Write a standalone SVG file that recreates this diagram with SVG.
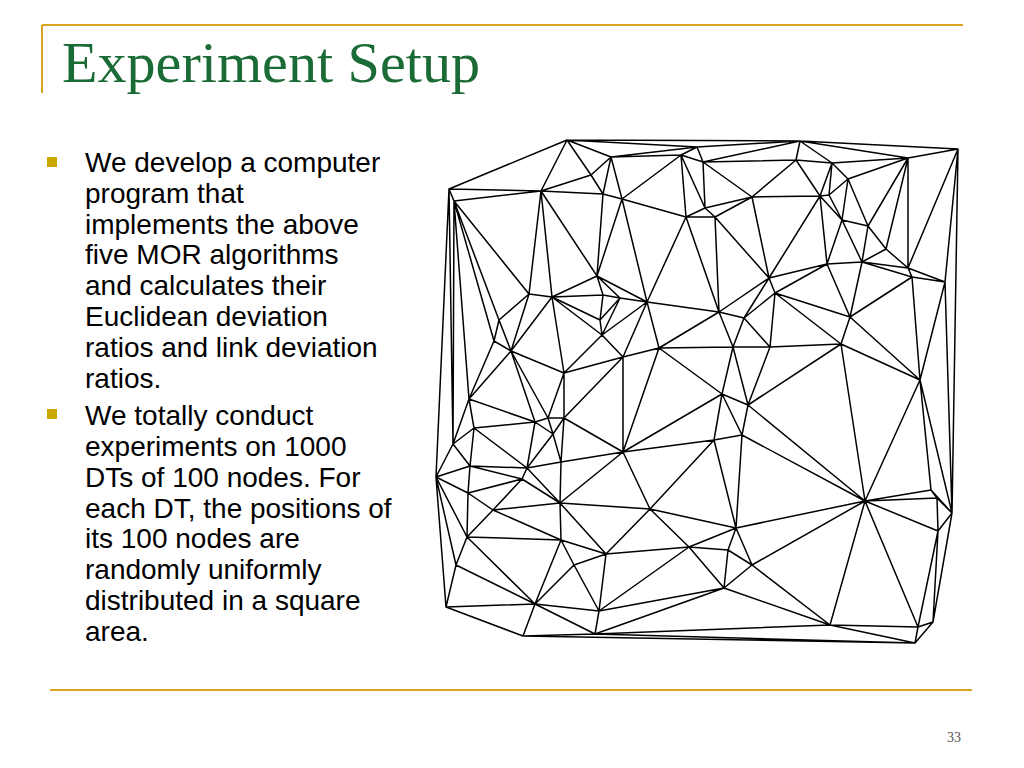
<svg xmlns="http://www.w3.org/2000/svg" width="1024" height="768" viewBox="0 0 1024 768">
<style>
.rule{stroke:#D9A51E;stroke-width:2;fill:none}
.title{font-family:"Liberation Serif","Times New Roman",serif;font-size:56px;fill:#1B6B36}
.body{font-family:"Liberation Sans",Arial,sans-serif;font-size:28px;fill:#000}
.bul{fill:#C9A800}
.edge{stroke:#000;stroke-width:1.5;fill:none;stroke-linecap:round;stroke-linejoin:round}
.pg{font-family:"Liberation Serif","Times New Roman",serif;font-size:14px;fill:#555}
</style>
<rect width="1024" height="768" fill="#fff"/>
<g id="frame">
<path class="rule" d="M42 25H963M42 25V93M50 690H972"/>
</g>
<g id="title">
<text class="title" x="62" y="82" textLength="418" lengthAdjust="spacingAndGlyphs">Experiment Setup</text>
</g>
<g id="bullets">
<rect class="bul" x="47" y="157" width="10" height="10"/>
<rect class="bul" x="47" y="409" width="10" height="10"/>
</g>
<g id="body-text">
<text class="body" x="85" y="172">We develop a computer</text>
<text class="body" x="85" y="203">program that</text>
<text class="body" x="85" y="234">implements the above</text>
<text class="body" x="85" y="264">five MOR algorithms</text>
<text class="body" x="85" y="295">and calculates their</text>
<text class="body" x="85" y="326">Euclidean deviation</text>
<text class="body" x="85" y="357">ratios and link deviation</text>
<text class="body" x="85" y="388">ratios.</text>
<text class="body" x="85" y="425">We totally conduct</text>
<text class="body" x="85" y="456">experiments on 1000</text>
<text class="body" x="85" y="487">DTs of 100 nodes. For</text>
<text class="body" x="85" y="518">each DT, the positions of</text>
<text class="body" x="85" y="548">its 100 nodes are</text>
<text class="body" x="85" y="579">randomly uniformly</text>
<text class="body" x="85" y="610">distributed in a square</text>
<text class="body" x="85" y="641">area.</text>
</g>
<g id="connectors">
<path class="edge" d="M567 140L449 189M567 140L541 191M567 140L591 175M567 140L611 157M567 140L697 147M567 140L800 141
M449 189L454 201M449 189L541 191M449 189L436 477M449 189L453 444
M454 201L541 191M454 201L529 294M454 201L499 320M454 201L494 341M454 201L469 399M454 201L453 444
M541 191L591 175M541 191L603 194M541 191L529 294M541 191L552 297M541 191L597 276
M591 175L611 157M591 175L603 194
M611 157L603 194M611 157L622 199M611 157L681 155M611 157L697 147
M603 194L622 199M603 194L597 276
M622 199L681 155M622 199L686 217M622 199L597 276M622 199L647 302
M681 155L697 147M681 155L703 162M681 155L705 208M681 155L686 217
M686 217L705 208M686 217L715 217M686 217L647 302M686 217L719 312
M703 162L697 147M703 162L705 208M703 162L800 141M703 162L796 160M703 162L752 197
M705 208L715 217M705 208L752 197
M715 217L752 197M715 217L719 312M715 217L769 278
M697 147L800 141
M800 141L796 160M800 141L832 163M800 141L908 158M800 141L958 149
M796 160L832 163M796 160L752 197M796 160L820 196
M832 163L820 196M832 163L829 195M832 163L848 179M832 163L908 158
M848 179L829 195M848 179L908 158M848 179L842 220M848 179L868 226
M752 197L820 196M752 197L769 278
M820 196L829 195M820 196L842 220M820 196L827 264M820 196L769 278
M829 195L842 220
M908 158L958 149M908 158L868 226M908 158L886 249M908 158L908 268
M958 149L908 268M958 149L945 282M958 149L952 513
M842 220L868 226M842 220L827 264M842 220L862 262
M868 226L886 249M868 226L862 262
M886 249L908 268M886 249L862 262
M908 268L862 262M908 268L912 277M908 268L945 282
M827 264L862 262M827 264L769 278M827 264L775 293M827 264L850 317
M862 262L912 277M862 262L850 317
M912 277L945 282M912 277L850 317M912 277L920 380
M945 282L920 380M945 282L952 513
M769 278L775 293M769 278L719 312M769 278L744 318
M775 293L744 318M775 293L850 317M775 293L770 347M775 293L841 344
M719 312L744 318M719 312L733 347M719 312L659 348M719 312L647 302
M744 318L733 347M744 318L770 347
M850 317L841 344M850 317L920 380
M733 347L770 347M733 347L659 348M733 347L722 394M733 347L748 405
M770 347L841 344M770 347L748 405
M841 344L920 380M841 344L748 405M841 344L865 501
M920 380L865 501M920 380L931 490M920 380L952 513
M597 276L552 297M597 276L603 295M597 276L620 298M597 276L647 302
M529 294L552 297M529 294L499 320M529 294L511 351
M552 297L511 351M552 297L564 373M552 297L603 295M552 297L600 320M552 297L602 335
M620 298L603 295M620 298L600 320M620 298L602 335M620 298L647 302
M647 302L602 335M647 302L623 357M647 302L659 348
M600 320L603 295M600 320L602 335
M602 335L564 373M602 335L623 357
M499 320L494 341M499 320L511 351
M494 341L511 351M494 341L469 399
M511 351L469 399M511 351L535 422M511 351L548 418M511 351L564 373
M564 373L548 418M564 373L564 418M564 373L623 357
M623 357L659 348M623 357L564 418M623 357L623 452
M659 348L722 394M659 348L623 452
M469 399L535 422M469 399L474 428M469 399L453 444
M535 422L548 418M535 422L553 434M535 422L474 428M535 422L527 468
M548 418L564 418M548 418L553 434
M564 418L553 434M564 418L561 462M564 418L623 452
M474 428L453 444M474 428L527 468M474 428L470 466
M453 444L470 466M453 444L436 477
M553 434L527 468M553 434L561 462
M527 468L561 462M527 468L560 503M527 468L522 479M527 468L470 466
M470 466L436 477M470 466L522 479M470 466L468 493
M436 477L468 493M436 477L467 537M436 477L456 565M436 477L446 607
M623 452L561 462M623 452L560 503M623 452L650 509M623 452L722 394M623 452L714 440
M522 479L468 493M522 479L493 510M522 479L560 503
M468 493L493 510M468 493L467 537
M560 503L561 462M560 503L493 510M560 503L561 540M560 503L606 554M560 503L650 509
M493 510L467 537M493 510L561 540
M650 509L606 554M650 509L689 547M650 509L714 440M650 509L736 528
M467 537L561 540M467 537L456 565M467 537L535 604
M561 540L574 565M561 540L535 604M561 540L606 554
M606 554L574 565M606 554L599 611M606 554L689 547
M689 547L599 611M689 547L724 588M689 547L728 550M689 547L736 528
M456 565L535 604M456 565L446 607
M574 565L535 604M574 565L599 611
M535 604L446 607M535 604L523 636M535 604L595 634M535 604L599 611
M446 607L523 636
M599 611L595 634M599 611L724 588
M523 636L595 634M523 636L915 643
M595 634L724 588M595 634L830 625M595 634L915 643
M722 394L748 405M722 394L742 435M722 394L714 440
M748 405L742 435M748 405L865 501
M742 435L714 440M742 435L865 501M742 435L736 528
M714 440L736 528
M865 501L931 490M865 501L937 498M865 501L938 531M865 501L736 528M865 501L752 565M865 501L830 625M865 501L918 627
M931 490L937 498M931 490L952 513
M937 498L952 513M937 498L938 531
M952 513L938 531M952 513L933 622
M938 531L918 627M938 531L933 622
M736 528L728 550M736 528L752 565
M728 550L752 565M728 550L724 588
M752 565L724 588M752 565L830 625
M724 588L830 625
M830 625L918 627M830 625L915 643
M918 627L933 622M918 627L915 643
M933 622L915 643"/>
</g>
<g id="page-number">
<text class="pg" x="947" y="742">33</text>
</g>
</svg>
